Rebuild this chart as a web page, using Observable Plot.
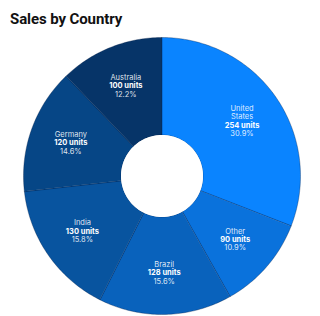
<!DOCTYPE html>
<html>
<head>
<meta charset="utf-8">
<script src="https://cdn.jsdelivr.net/npm/d3@7"></script>
<script src="https://cdn.jsdelivr.net/npm/@observablehq/plot@0.6"></script>
<style>
  html, body { margin: 0; padding: 0; background: #fff; }
  #title { font-family: Roboto, Inter, "Noto Sans", sans-serif; font-weight: 700; font-size: 15px; color: #111;
           height: 30px; line-height: 30px; padding-left: 10px; box-sizing: border-box; padding-top: 4px; letter-spacing: -0.1px; }
  #chart svg { display: block; }
</style>
</head>
<body>
<div id="title">Sales by Country</div>
<div id="chart"></div>
<script>
// ---- data ----
const countries = ["United States", "Other", "Brazil", "India", "Germany", "Australia"];
const labelLines = [["United", "States"], ["Other"], ["Brazil"], ["India"], ["Germany"], ["Australia"]];
const units = [254, 90, 128, 130, 120, 100];
const colors = ["#0a84ff", "#0a72dc", "#0962bc", "#08549f", "#064686", "#063468"];

// ---- geometry (data space: unit circle) ----
const innerR = 0.296, labelR = 0.70;
const pxPerUnit = 138.5, lineH = 8.4;
const total = d3.sum(units);
const pie = d3.pie().sort(null).value(d => d)(units);

const arcPts = [];
pie.forEach((p, i) => {
  const n = Math.max(8, Math.ceil((p.endAngle - p.startAngle) * 60));
  for (let k = 0; k <= n; k++) {
    const a = p.startAngle + (p.endAngle - p.startAngle) * k / n;
    arcPts.push({c: countries[i], fill: colors[i], x: Math.sin(a), y: Math.cos(a)});
  }
  for (let k = n; k >= 0; k--) {
    const a = p.startAngle + (p.endAngle - p.startAngle) * k / n;
    arcPts.push({c: countries[i], fill: colors[i], x: innerR * Math.sin(a), y: innerR * Math.cos(a)});
  }
});

const holePts = d3.range(0, 121).map(k => {
  const a = 2 * Math.PI * k / 120;
  return {x: innerR * Math.sin(a), y: innerR * Math.cos(a)};
});

const textRows = [];
pie.forEach((p, i) => {
  const mid = (p.startAngle + p.endAngle) / 2;
  const cx = labelR * Math.sin(mid), cy = labelR * Math.cos(mid);
  const lines = labelLines[i].map(t => ({t, bold: false}))
    .concat([{t: `${units[i]} units`, bold: true}, {t: `${(units[i] / total * 100).toFixed(1)}%`, bold: false}]);
  const n = lines.length;
  lines.forEach((l, j) => {
    textRows.push({x: cx, y: cy - (j - (n - 1) / 2) * lineH / pxPerUnit, t: l.t, bold: l.bold});
  });
});

const W = 320, H = 286;
const cxPx = 161.5, cyPx = 145.5;
const chart = Plot.plot({
  width: W, height: H,
  marginLeft: cxPx - pxPerUnit, marginRight: W - (cxPx + pxPerUnit),
  marginTop: cyPx - pxPerUnit, marginBottom: H - (cyPx + pxPerUnit),
  x: {domain: [-1, 1], axis: null},
  y: {domain: [-1, 1], axis: null},
  color: {type: "identity"},
  style: {fontFamily: "Inter, 'Noto Sans', sans-serif", background: "transparent"},
  marks: [
    Plot.line(arcPts, {x: "x", y: "y", z: "c", fill: "fill", stroke: "#001a40", strokeOpacity: 0.55,
      strokeWidth: 0.6, curve: "linear-closed", style: {filter: "drop-shadow(0px 0px 1.2px rgba(0,0,0,0.6))"}}),
    Plot.line(holePts, {x: "x", y: "y", fill: "white", stroke: "none", curve: "linear-closed",
      style: {filter: "drop-shadow(1px 1.5px 1.2px rgba(0,0,0,0.55))"}}),
    Plot.text(textRows.filter(d => !d.bold), {x: "x", y: "y", text: "t", fill: "white", fillOpacity: 0.88,
      fontSize: 7.5, lineAnchor: "middle"}),
    Plot.text(textRows.filter(d => d.bold), {x: "x", y: "y", text: "t", fill: "white",
      fontSize: 7.5, fontWeight: 700, lineAnchor: "middle"})
  ]
});
document.getElementById("chart").appendChild(chart);
</script>
</body>
</html>
